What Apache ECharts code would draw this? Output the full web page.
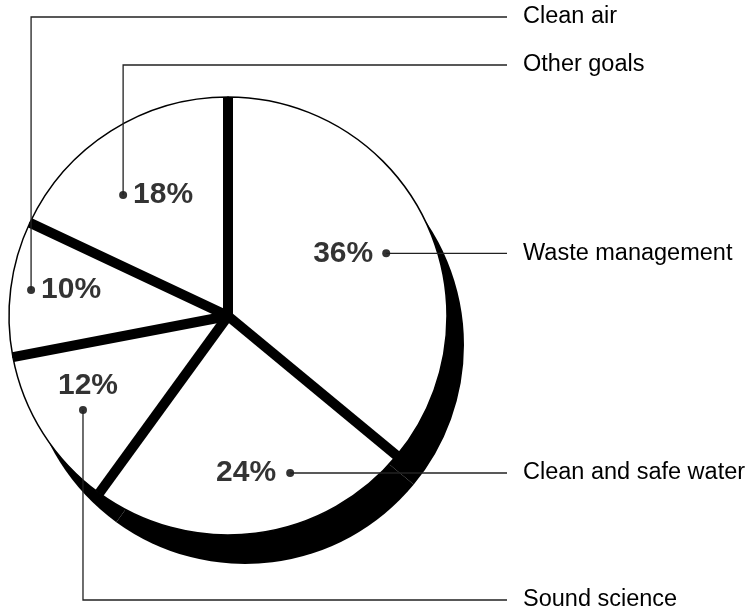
<!DOCTYPE html>
<html><head><meta charset="utf-8">
<script src="https://cdn.jsdelivr.net/npm/echarts@6/dist/echarts.min.js"></script>
<style>html,body{margin:0;padding:0;background:#fff}#c{width:750px;height:610px}</style>
</head><body><div id="c"></div>
<script>
// ---- data ----
const categories = ['Waste management', 'Clean and safe water', 'Sound science', 'Clean air', 'Other goals'];
const shares = [36, 24, 12, 10, 18];

// ---- layout / style (not data) ----
const CX = 228, CY = 316, R = 219;
const SHADOW_DX = 17, SHADOW_DY = 29;
const anchorRadius = [0.777, 0.771, 0.789, 0.907, 0.731];   // fraction of radius
const anchorAngle  = [19.0, 44.0, 65.85, 77.09, 88.63];     // in share units (0-100)
const pctPos  = ['left', 'left', 'top', 'right', 'right'];
const pctDist = [9, 10, 5, 6, 6];
const pctOffset = [[0,0],[0,0],[5,0],[0,0],[0,0]];
const nameRowY = [null, null, 600, 17, 65];
const NAME_X = 523, LINE_END_X = 507;
const FONT = '"Liberation Sans", Arial, Helvetica, sans-serif';

const chart = echarts.init(document.getElementById('c'), null, {renderer: 'canvas'});
const pieData = categories.map((c, i) => ({name: c, value: shares[i]}));
const bounds = [];
let acc = 0;
shares.forEach(v => { bounds.push(acc); acc += v; });
const total = acc;

function anchorPx(i) {
  const a = anchorAngle[i] / total * Math.PI * 2;
  const rr = anchorRadius[i] * R;
  return [CX + rr * Math.sin(a), CY - rr * Math.cos(a)];
}

const series = [];
series.push({
  type: 'pie', center: [CX + SHADOW_DX, CY + SHADOW_DY], radius: R, z: 1, silent: true,
  startAngle: 90, clockwise: true, data: pieData,
  label: {show: false}, labelLine: {show: false},
  itemStyle: {color: '#000', borderWidth: 0}
});
series.push({
  type: 'pie', center: [CX, CY], radius: R, z: 2, silent: true,
  startAngle: 90, clockwise: true, data: pieData,
  label: {show: false}, labelLine: {show: false},
  itemStyle: {color: '#fff', borderColor: '#000', borderWidth: 1.5}
});
bounds.forEach(b => series.push({
  type: 'line', coordinateSystem: 'polar', z: 3, silent: true, symbol: 'none',
  data: [[0, b], [1, b]], lineStyle: {color: '#000', width: 10, cap: 'butt'}
}));
series.push({
  type: 'scatter', coordinateSystem: 'polar', z: 5, silent: true,
  symbol: 'circle', symbolSize: 8, itemStyle: {color: '#000'},
  data: anchorRadius.map((r, i) => ({
    value: [r, anchorAngle[i]],
    label: {position: pctPos[i], distance: pctDist[i], offset: pctOffset[i]}
  })),
  label: {
    show: true, formatter: p => shares[p.dataIndex] + '%',
    fontFamily: FONT, fontWeight: 'bold', fontSize: 30, color: '#000'
  }
});
series.push({
  type: 'pie', center: [CX, CY], radius: R, z: 6, silent: true,
  startAngle: 90, clockwise: true, data: pieData, avoidLabelOverlap: false,
  itemStyle: {color: 'rgba(0,0,0,0)', borderWidth: 0},
  label: {show: true, position: 'outside', formatter: '{b}', width: 240, overflow: 'none',
          fontFamily: FONT, fontSize: 23.5, color: '#000'},
  labelLine: {show: true, lineStyle: {color: '#222', width: 1.3}},
  labelLayout: function (params) {
    const i = params.dataIndex;
    const p = anchorPx(i);
    const y = nameRowY[i] == null ? p[1] : nameRowY[i];
    return {
      x: NAME_X, y: y, align: 'left', verticalAlign: 'middle',
      labelLinePoints: [[p[0], p[1]], [p[0], y], [LINE_END_X, y]]
    };
  }
});

chart.setOption({
  animation: false,
  backgroundColor: '#fff',
  polar: {center: [CX, CY], radius: R},
  angleAxis: {type: 'value', min: 0, max: total, startAngle: 90, clockwise: true, show: false},
  radiusAxis: {type: 'value', min: 0, max: 1, show: false},
  series: series
});
</script>
</body></html>
